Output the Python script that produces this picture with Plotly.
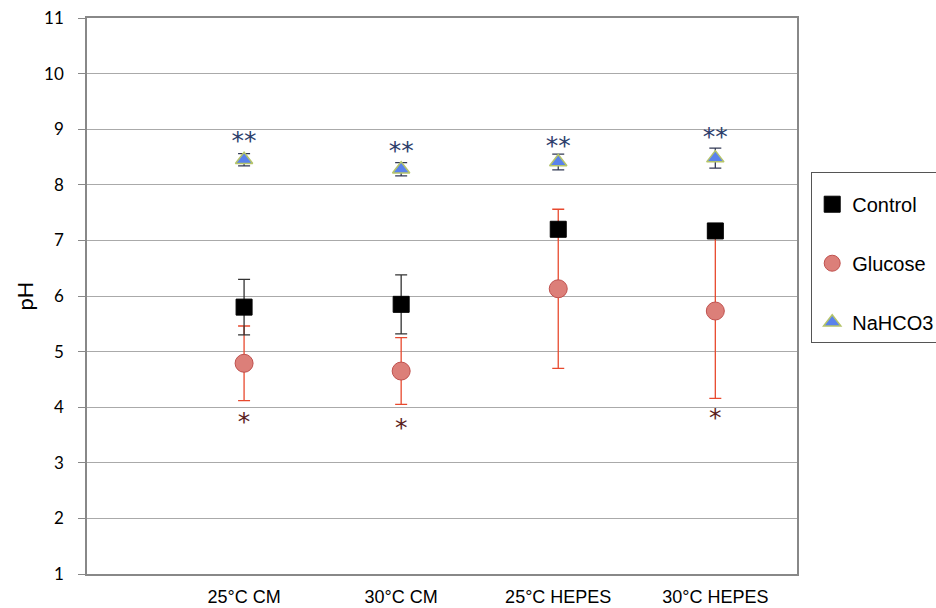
import plotly.graph_objects as go

categories = ["25°C CM", "30°C CM", "25°C HEPES", "30°C HEPES"]
control = [5.80, 5.85, 7.20, 7.17]
control_err = [0.50, 0.53, 0.10, 0.10]
glucose = [4.79, 4.65, 6.13, 5.73]
glucose_err = [0.67, 0.60, 1.43, 1.57]
nahco3 = [8.45, 8.28, 8.41, 8.48]
nahco3_err = [0.11, 0.12, 0.14, 0.18]
double_star_y = [8.76, 8.58, 8.67, 8.83]
single_star_x = ["25°C CM", "30°C CM", "30°C HEPES"]
single_star_y = [3.70, 3.59, 3.78]
y_ticks = list(range(1, 12))

fig = go.Figure()

fig.add_trace(go.Scatter(
    x=categories, y=glucose, mode="markers", name="Glucose",
    legendgroup="g", legendrank=2,
    marker=dict(symbol="circle", size=18, color="#dc7f79",
                line=dict(color="#c0504d", width=1)),
    error_y=dict(type="data", array=glucose_err, color="#e8492e",
                 thickness=1.3, width=6),
))
fig.add_trace(go.Scatter(
    x=categories, y=control, mode="markers", name="Control",
    legendgroup="c", legendrank=1,
    marker=dict(symbol="square", size=16, color="#000000",
                line=dict(color="#000000", width=1)),
    error_y=dict(type="data", array=control_err, color="#333333",
                 thickness=1.3, width=6),
))
fig.add_trace(go.Scatter(
    x=categories, y=nahco3, mode="markers", name="NaHCO3",
    legendgroup="n", legendrank=3,
    marker=dict(symbol="triangle-up", size=15, color="#5a82ec",
                line=dict(color="#b5c46a", width=1.5)),
    error_y=dict(type="data", array=nahco3_err, color="#333a55",
                 thickness=1.3, width=6),
))

fig.add_trace(go.Scatter(
    x=categories, y=double_star_y, mode="text", text=["**"] * 4,
    textfont=dict(size=25, color="#2c3e6b", family="DejaVu Sans"),
    showlegend=False, hoverinfo="skip",
))
fig.add_trace(go.Scatter(
    x=single_star_x, y=single_star_y, mode="text", text=["*"] * 3,
    textfont=dict(size=25, color="#5a1e1e", family="DejaVu Sans"),
    showlegend=False, hoverinfo="skip",
))

fig.update_layout(
    width=936, height=608,
    margin=dict(l=87, r=139, t=18, b=34, autoexpand=False),
    paper_bgcolor="white", plot_bgcolor="white",
    font=dict(family="Liberation Sans", color="black"),
    legend=dict(
        x=1.02, y=0.723, xanchor="left", yanchor="top",
        bordercolor="#555555", borderwidth=1,
        font=dict(size=20, family="Liberation Sans", color="black"),
        title=dict(text=" ", font=dict(size=9)),
        tracegroupgap=30, itemwidth=30,
    ),
)
fig.update_xaxes(
    type="category", categoryorder="array", categoryarray=categories,
    range=[-1, 3.52], showgrid=False, automargin=False,
    showline=True, linecolor="#888888", linewidth=1.5, mirror=True,
    ticks="", ticklabelstandoff=6,
    tickfont=dict(size=18, family="Liberation Sans", color="black"),
)
fig.update_yaxes(
    range=[1, 11], tickvals=y_ticks, showgrid=True, gridcolor="#aaaaaa",
    gridwidth=1, zeroline=False, automargin=False,
    showline=True, linecolor="#888888", linewidth=1.5, mirror=True,
    ticks="outside", ticklen=7, tickcolor="#888888", ticklabelstandoff=11,
    tickfont=dict(size=17, family="Lato", color="black"),
    title=dict(text="pH", font=dict(size=22, family="Lato", color="black"), standoff=4),
)

fig.write_html(
    "out.html",
    config={"displayModeBar": False},
    post_script="document.body.style.margin='0';document.body.style.overflow='hidden';",
)
